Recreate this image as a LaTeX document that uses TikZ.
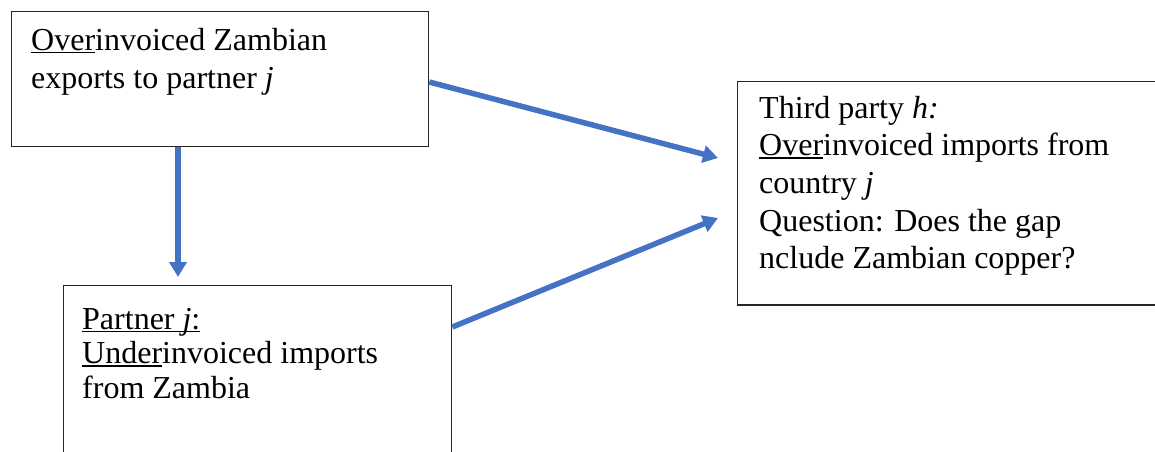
\documentclass[tikz,border=0pt]{standalone}
\usepackage{fontspec}
\setmainfont{Liberation Serif}
\usetikzlibrary{arrows.meta,calc}
\definecolor{arrowblue}{HTML}{4472C4}
\definecolor{framegray}{HTML}{262626}
\newcommand\ulx[1]{\setbox0\hbox{#1}\rlap{\rule[-3pt]{\wd0}{1.5pt}}\box0}
\tikzset{
  frame/.style={draw=framegray, line width=1.3pt, rectangle, inner sep=0pt, anchor=north west},
  label/.style={anchor=base west, inner sep=0pt, font=\fontsize{32}{38}\selectfont},
  flow/.style={draw=arrowblue, line width=5.5pt, -{Triangle[width=17pt,length=15pt]}}
}
\begin{document}
\begin{tikzpicture}[x=1pt,y=-1pt]
\useasboundingbox (0,0) rectangle (1155,451);
\clip (0,0) rectangle (1155,451);
\node[frame, minimum width=417.5pt, minimum height=135pt] (A) at (10.5,10.5) {};
\node[frame, minimum width=388.5pt, minimum height=220pt] (B) at (62.5,285) {};
\node[frame, minimum width=500pt, minimum height=223.5pt] (C) at (737,80.7) {};
\node[label] (tA) at (31,50) {\begin{tabular}[t]{@{}l@{}}\ulx{Over}invoiced Zambian\\ exports to partner \textit{j}\end{tabular}};
\node[label, font=\fontsize{32}{34.5}\selectfont] (tB) at (82,329) {\begin{tabular}[t]{@{}l@{}}\ulx{Partner \textit{j}:}\\ \ulx{Under}invoiced imports\\ from Zambia\end{tabular}};
\node[label, font=\fontsize{32}{37.7}\selectfont] (tC) at (759,118) {\begin{tabular}[t]{@{}l@{}}Third party \textit{h:}\\ \ulx{Over}invoiced imports from\\ country \textit{j}\\ Question: Does the gap\\ nclude Zambian copper?\end{tabular}};
\coordinate (tipB) at (178,277);
\coordinate (tipC1) at (718,158);
\coordinate (tipC2) at (718,218);
\draw[flow] (A.south west -| tipB) -- (tipB);
\draw[flow] ($(A.north east)+(0,71.5)$) -- (tipC1);
\draw[flow] ($(B.north east)+(0,42)$) -- (tipC2);
\end{tikzpicture}
\end{document}
